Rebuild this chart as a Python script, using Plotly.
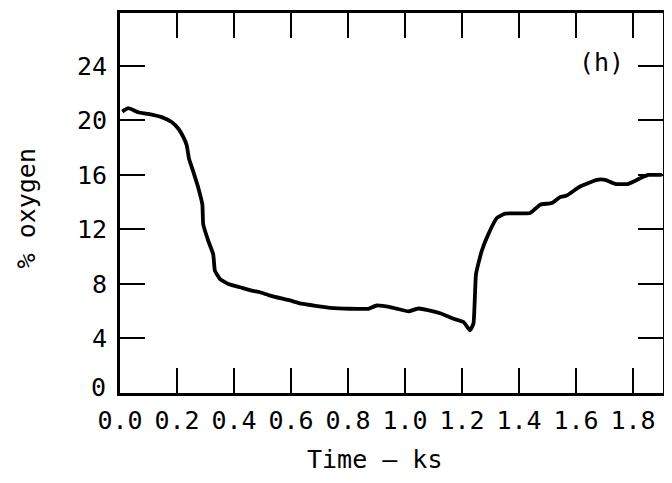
import plotly.graph_objects as go

time_ks = [0.008, 0.029, 0.064, 0.099, 0.146, 0.181, 0.205, 0.222, 0.234, 0.242, 0.257,
           0.275, 0.289, 0.292, 0.310, 0.327, 0.333, 0.351, 0.380, 0.421, 0.462, 0.491,
           0.526, 0.596, 0.637, 0.737, 0.807, 0.871, 0.901, 0.959, 1.012, 1.047, 1.099,
           1.123, 1.170, 1.205, 1.228, 1.240, 1.249, 1.269, 1.292, 1.322, 1.351, 1.439,
           1.474, 1.515, 1.544, 1.567, 1.614, 1.673, 1.702, 1.737, 1.784, 1.825, 1.854, 1.901]
oxygen_pct = [20.65, 20.9, 20.6, 20.48, 20.24, 19.88, 19.39, 18.79, 18.18, 17.2, 16.24,
              15.03, 13.82, 12.36, 11.15, 10.18, 8.97, 8.36, 8.0, 7.76, 7.51, 7.39,
              7.15, 6.79, 6.55, 6.25, 6.18, 6.18, 6.42, 6.25, 5.99, 6.2, 5.99,
              5.85, 5.45, 5.21, 4.6, 5.09, 8.73, 10.42, 11.64, 12.84, 13.16, 13.21,
              13.82, 13.94, 14.37, 14.49, 15.15, 15.64, 15.64, 15.35, 15.35, 15.76, 16.0, 16.0]

x_ticks = [0.0, 0.2, 0.4, 0.6, 0.8, 1.0, 1.2, 1.4, 1.6, 1.8]
x_tick_labels = ["0.0", "0.2", "0.4", "0.6", "0.8", "1.0", "1.2", "1.4", "1.6", "1.8"]
y_ticks = [0, 4, 8, 12, 16, 20, 24]
y_tick_labels = ["", "4", "8", "12", "16", "20", "24"]
y_zero_label = "0"

FONT = "DejaVu Sans Mono"

fig = go.Figure()
fig.add_trace(go.Scatter(x=time_ks, y=oxygen_pct, mode="lines",
                         line=dict(color="black", width=3.8, shape="spline", smoothing=0.4),
                         showlegend=False, hoverinfo="skip"))

axis_common = dict(showline=True, linecolor="black", linewidth=3, mirror="allticks",
                   ticks="inside", ticklen=25, tickwidth=2, tickcolor="black",
                   showgrid=False, zeroline=False,
                   tickfont=dict(family=FONT, size=25, color="black"))

fig.update_xaxes(range=[0, 1.905], tickvals=x_ticks, ticktext=x_tick_labels,
                 ticklabelstandoff=3, **axis_common)
fig.update_yaxes(range=[0, 27.88], tickvals=y_ticks, ticktext=y_tick_labels,
                 ticklabelstandoff=5, **axis_common)

# the "0" on the y axis sits a little above the axis line in the reference
fig.add_annotation(text=y_zero_label, xref="paper", yref="paper", x=(107 - 120) / 543, y=(393 - 387) / 383,
                   showarrow=False, font=dict(family=FONT, size=25, color="black"),
                   xanchor="right", yanchor="middle", borderpad=0)
fig.add_annotation(text="Time — ks", xref="paper", yref="paper", x=(374 - 120) / 543, y=-(460 - 393) / 383,
                   showarrow=False, font=dict(family=FONT, size=25, color="black"),
                   xanchor="center", yanchor="middle")
fig.add_annotation(text="% oxygen", xref="paper", yref="paper", x=(26 - 120) / 543, y=(393 - 207) / 383,
                   showarrow=False, textangle=-90, font=dict(family=FONT, size=25, color="black"),
                   xanchor="center", yanchor="middle")
fig.add_annotation(text="(h)", xref="x", yref="y", x=(601 - 120) / 285, y=(393.3 - 60) / 13.75,
                   showarrow=False, font=dict(family=FONT, size=25, color="black"),
                   xanchor="center", yanchor="middle")

# page body has an 8px default margin; shrink the figure so the plot area lands where the reference has it
fig.update_layout(width=664, height=475, margin=dict(l=112, r=9, t=2, b=90),
                  plot_bgcolor="white", paper_bgcolor="white")

fig.write_html("out.html")
